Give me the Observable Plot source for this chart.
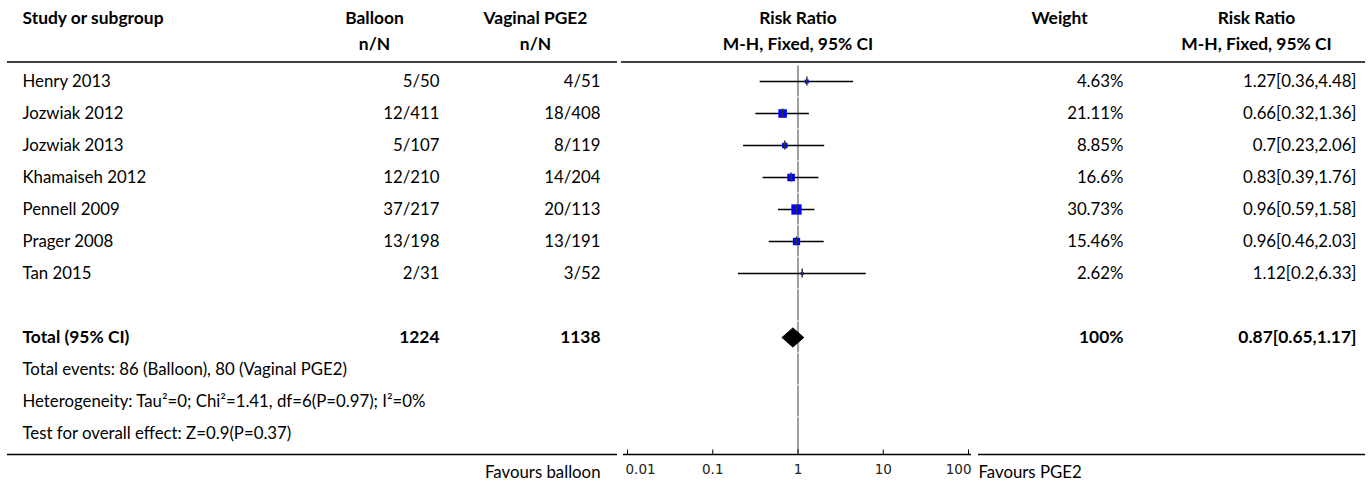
<!DOCTYPE html>
<html>
<head>
<meta charset="utf-8">
<script src="https://cdn.jsdelivr.net/npm/d3@7"></script>
<script src="https://cdn.jsdelivr.net/npm/@observablehq/plot@0.6"></script>
<style>
  html, body { margin: 0; padding: 0; background: #fff; }
  #chart svg { display: block; }
</style>
</head>
<body>
<div id="chart"></div>
<script>
// ---------- data ----------
const studies        = ["Henry 2013", "Jozwiak 2012", "Jozwiak 2013", "Khamaiseh 2012", "Pennell 2009", "Prager 2008", "Tan 2015"];
const balloonEvents  = [5, 12, 5, 12, 37, 13, 2];
const balloonTotals  = [50, 411, 107, 210, 217, 198, 31];
const pgeEvents      = [4, 18, 8, 14, 20, 13, 3];
const pgeTotals      = [51, 408, 119, 204, 113, 191, 52];
const weights        = [4.63, 21.11, 8.85, 16.6, 30.73, 15.46, 2.62];
const riskRatios     = [1.27, 0.66, 0.7, 0.83, 0.96, 0.96, 1.12];
const ciLower        = [0.36, 0.32, 0.23, 0.39, 0.59, 0.46, 0.2];
const ciUpper        = [4.48, 1.36, 2.06, 1.76, 1.58, 2.03, 6.33];

const totalLabel     = "Total (95% CI)";
const totalBalloon   = 1224;
const totalPge       = 1138;
const totalWeight    = 100;
const totalRR        = 0.87;
const totalLower     = 0.65;
const totalUpper     = 1.17;

const footLines = [
  "Total events: 86 (Balloon), 80 (Vaginal PGE2)",
  "Heterogeneity: Tau\u00b2=0; Chi\u00b2=1.41, df=6(P=0.97); I\u00b2=0%",
  "Test for overall effect: Z=0.9(P=0.37)"
];
const headers1 = ["Study or subgroup", "Balloon", "Vaginal PGE2", "Risk Ratio", "Weight", "Risk Ratio"];
const headers2 = ["n/N", "n/N", "M-H, Fixed, 95% CI", "M-H, Fixed, 95% CI"];
const axisTicks = [0.01, 0.1, 1, 10, 100];
const favoursLeft = "Favours balloon";
const favoursRight = "Favours PGE2";

// ---------- layout ----------
const W = 1370, H = 484;
const ROW0 = 81, ROWH = 32;           // first study row centre, row pitch (px)
const at = px => (px - ROW0) / ROWH;  // pixel -> row units
const FONT = "Lato, 'Noto Sans', sans-serif";
const FS = 16.8;
const FSB = 17.4;
const INK = "#000";

const rows = studies.map((s, i) => ({
  study: s, row: i,
  b: `${balloonEvents[i]}/${balloonTotals[i]}`,
  p: `${pgeEvents[i]}/${pgeTotals[i]}`,
  w: weights[i], rr: riskRatios[i], lo: ciLower[i], hi: ciUpper[i],
  wLabel: `${weights[i]}%`,
  ciLabel: `${riskRatios[i]}[${ciLower[i]},${ciUpper[i]}]`
}));
const totalRow = studies.length + 1;   // one blank row then total
const foot = footLines.map((t, i) => ({t, row: totalRow + 1 + i}));
const refSegments = d3.range(0, totalRow + 4);

const diamondH = 0.3;
const diamond = [
  {x: totalLower, y: totalRow},
  {x: totalRR, y: totalRow - diamondH},
  {x: totalUpper, y: totalRow},
  {x: totalRR, y: totalRow + diamondH},
  {x: totalLower, y: totalRow}
];

const col = {study: 22, balloon: 439, pge: 600, weight: 1123, ci: 1356};
const hdr = {balloon: 374, pge: 535, weight: 1059, ci: 1256};

const txt = (data, opts) => Plot.text(data, {frameAnchor: "left", fontFamily: FONT, fontSize: FS, fill: INK, ...opts});
const btxt = (data, opts) => txt(data, {fontWeight: "bold", fontSize: FSB, ...opts});
const tickFont = {fontFamily: "'DejaVu Sans', sans-serif", fontSize: 13.5, fill: "#222", y: at(469), text: d => String(d), x: d => d};
const lastTick = axisTicks.length - 1;

const chart = Plot.plot({
  width: W, height: H,
  marginTop: 0, marginRight: 0, marginBottom: 0, marginLeft: 0,
  style: {fontFamily: FONT, background: "#fff"},
  x: {type: "log", domain: [0.01, 100], range: [627, 968], axis: null},
  y: {type: "linear", domain: [0, 1], range: [ROW0, ROW0 + ROWH], axis: null},
  r: {type: "sqrt", domain: [0, d3.max(weights)], range: [0, 5.8]},
  marks: [
    // header texts
    btxt([headers1[0]], {y: at(18), dx: col.study, textAnchor: "start"}),
    btxt([headers1[1]], {y: at(18), dx: hdr.balloon, textAnchor: "middle"}),
    btxt([headers1[2]], {y: at(18), dx: hdr.pge, textAnchor: "middle"}),
    Plot.text([headers1[3]], {x: 1, y: at(18), fontFamily: FONT, fontSize: FSB, fontWeight: "bold", fill: INK}),
    btxt([headers1[4]], {y: at(18), dx: hdr.weight, textAnchor: "middle"}),
    btxt([headers1[5]], {y: at(18), dx: hdr.ci, textAnchor: "middle"}),
    btxt([headers2[0]], {y: at(44), dx: hdr.balloon, textAnchor: "middle"}),
    btxt([headers2[1]], {y: at(44), dx: hdr.pge, textAnchor: "middle"}),
    Plot.text([headers2[2]], {x: 1, y: at(44), fontFamily: FONT, fontSize: FSB, fontWeight: "bold", fill: INK}),
    btxt([headers2[3]], {y: at(44), dx: hdr.ci, textAnchor: "middle"}),

    // horizontal table rules
    Plot.ruleY([at(61.5)], {insetLeft: 7, insetRight: W - 617, stroke: "#000", strokeWidth: 1.5}),
    Plot.ruleY([at(61.5)], {insetLeft: 621, insetRight: 5, stroke: "#000", strokeWidth: 1.5}),
    Plot.ruleY([at(454)], {insetLeft: 7, insetRight: W - 617, stroke: "#000", strokeWidth: 1.5}),
    Plot.ruleY([at(454)], {insetLeft: 623, insetRight: W - 971, stroke: "#000", strokeWidth: 1.5}),
    Plot.ruleY([at(454)], {insetLeft: 978, insetRight: 5, stroke: "#000", strokeWidth: 1.5}),

    // line of no effect (segmented per row)
    Plot.ruleX(refSegments, {
      x: 1, y1: r => r - 0.5,
      y2: r => (r === refSegments.length - 1 ? at(454) : r + 0.5),
      stroke: "#a0a0a0", strokeWidth: 2, insetTop: 0.5, insetBottom: 0.5
    }),

    // axis ticks + labels
    Plot.ruleX(axisTicks, {x: d => d, y1: at(449.5), y2: at(454), stroke: "#000", strokeWidth: 1}),
    Plot.text(axisTicks.slice(0, 1), {...tickFont, textAnchor: "start", dx: -2}),
    Plot.text(axisTicks.slice(1, lastTick), tickFont),
    Plot.text(axisTicks.slice(lastTick), {...tickFont, textAnchor: "end", dx: 3}),
    txt([favoursLeft], {y: at(472), dx: 600, textAnchor: "end"}),
    txt([favoursRight], {y: at(472), dx: 978, textAnchor: "start"}),

    // study rows text
    txt(rows, {y: "row", text: "study", dx: col.study, textAnchor: "start"}),
    txt(rows, {y: "row", text: "b", dx: col.balloon, textAnchor: "end"}),
    txt(rows, {y: "row", text: "p", dx: col.pge, textAnchor: "end"}),
    txt(rows, {y: "row", text: "wLabel", dx: col.weight, textAnchor: "end"}),
    txt(rows, {y: "row", text: "ciLabel", dx: col.ci, textAnchor: "end"}),

    // CI lines, squares, point ticks
    Plot.ruleY(rows, {y: "row", x1: "lo", x2: "hi", stroke: "#000", strokeWidth: 1.5}),
    Plot.dot(rows, {x: "rr", y: "row", r: "w", symbol: "square", fill: "#0000ff", stroke: "none"}),
    Plot.ruleX(rows, {x: "rr", y1: d => d.row - 0.14, y2: d => d.row + 0.14, stroke: "#333", strokeWidth: 1.5}),

    // total row
    btxt([totalLabel], {y: totalRow, dx: col.study, textAnchor: "start"}),
    btxt([String(totalBalloon)], {y: totalRow, dx: col.balloon, textAnchor: "end"}),
    btxt([String(totalPge)], {y: totalRow, dx: col.pge, textAnchor: "end"}),
    btxt([`${totalWeight}%`], {y: totalRow, dx: col.weight, textAnchor: "end"}),
    btxt([`${totalRR}[${totalLower},${totalUpper}]`], {y: totalRow, dx: col.ci, textAnchor: "end"}),
    Plot.line(diamond, {x: "x", y: "y", fill: "#000", stroke: "#000", strokeWidth: 1}),

    // footnotes
    txt(foot, {y: "row", text: "t", dx: col.study, textAnchor: "start"})
  ]
});
document.getElementById("chart").appendChild(chart);
</script>
</body>
</html>
